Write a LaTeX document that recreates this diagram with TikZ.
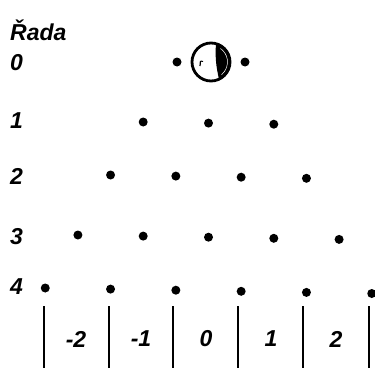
\documentclass[tikz,border=0pt]{standalone}
\usepackage{fontspec}
\setmainfont{Liberation Sans}
\usetikzlibrary{calc}
\definecolor{InkBlack}{HTML}{000000}
\newcommand{\rowfont}{\fontsize{23}{27}\selectfont\bfseries\itshape}
\newcommand{\pearl}[1]{
    \begin{scope}[shift={(#1)}]
        \draw[InkBlack, line width=2.8pt] (0,0) circle (19);
        \fill[InkBlack] (65:19) arc (65:-75:19) to[bend right=8] cycle;
        \draw[white, line width=0.5pt] (50:16.5) arc (50:-55:16.5);
        \draw[InkBlack, line width=0.5pt] (40:14) arc (40:-45:14);
        \draw[InkBlack, line width=1.2pt] (-11,4) -- (-10.5,-1);
        \draw[InkBlack, line width=1pt] (-10.5,-1) -- (-8,-0.5);
    \end{scope}
}

\begin{document}
\begin{tikzpicture}[x=1pt, y=-1pt,
    dotnode/.style={circle, fill=InkBlack, inner sep=0pt, minimum size=9pt},
    rowlabel/.style={anchor=west, inner sep=0pt, font=\rowfont},
    binlabel/.style={inner sep=0pt, font=\rowfont}]
        \useasboundingbox (0,0) rectangle (375,372);

        % Row labels
        \node[rowlabel] (title) at (10,30) {Řada};
        \foreach \r/\ry in {0/63, 1/121, 2/176, 3/237, 4/287}
            \node[rowlabel] (row-\r) at (10,\ry) {\r};

        % Row 0 with the pearl
        \pearl{211,62}
        \node[dotnode] (dot-0-0) at (177,62) {};
        \node[dotnode] (dot-0-1) at (245,62) {};

        % Rows 1 to 4
        \foreach \r/\ry in {1/122, 2/175, 3/235, 4/288} {
            \foreach \i in {0,...,\r} {
                \pgfmathsetmacro{\dx}{208.5 + 65.3*(\i - (\r+1)/2)}
                \pgfmathsetmacro{\dy}{\ry + 1.1*\i}
                \node[dotnode] (dot-\r-\i) at (\dx,\dy) {};
            }
            \pgfmathsetmacro{\ex}{208.5 + 65.3*((\r+1)/2)}
            \pgfmathsetmacro{\ey}{\ry + 1.1*(\r+1)}
            \node[dotnode] (dot-\r-last) at (\ex,\ey) {};
        }

        % Bins
        \foreach \bx [count=\k] in {44, 109, 173, 238, 303, 369}
            \draw[InkBlack, line width=2.2pt] (\bx,306) -- (\bx,368);
        \foreach \lx/\lt in {76/-2, 141/-1, 206/0, 271/1, 336/2}
            \node[binlabel] (bin\lt) at (\lx,339) {\lt};
    \end{tikzpicture}
\end{document}
